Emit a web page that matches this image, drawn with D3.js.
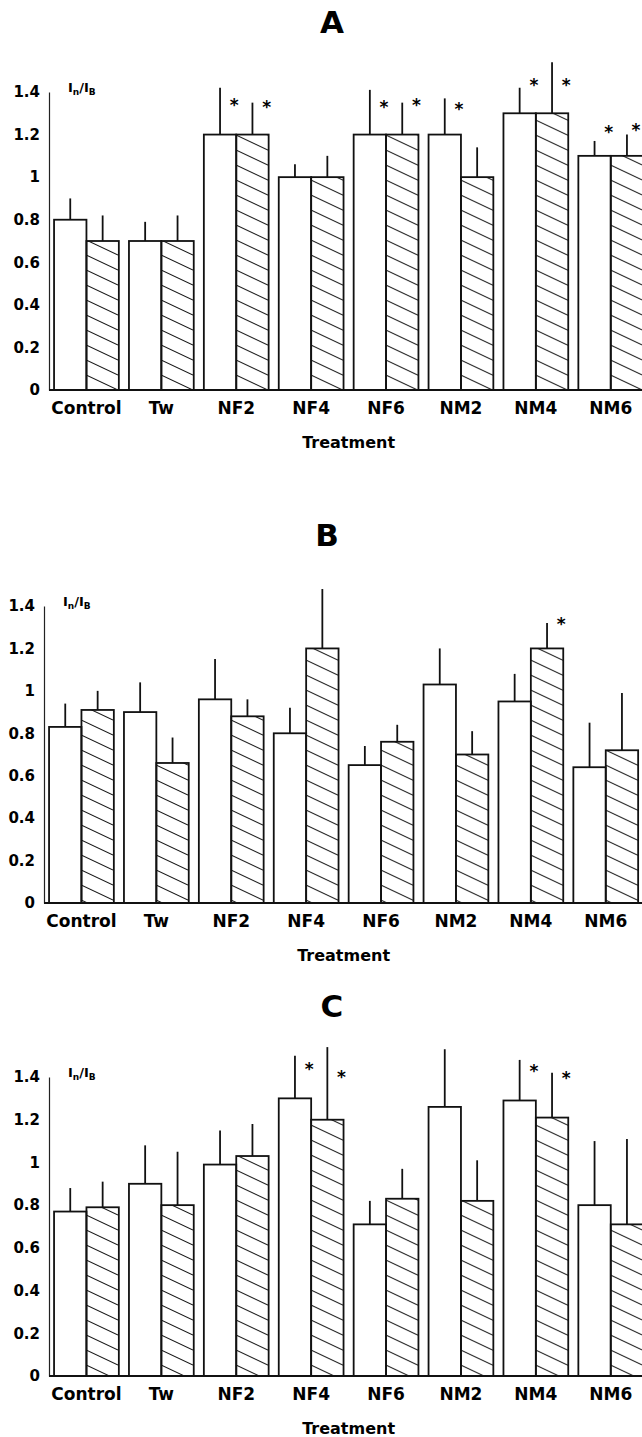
<!DOCTYPE html>
<html>
<head>
<meta charset="utf-8">
<script src="https://cdn.jsdelivr.net/npm/d3@7"></script>
<style>
  body { margin: 0; background: #fff; }
  svg { display: block; font-family: "DejaVu Sans", sans-serif; font-weight: bold; }
</style>
</head>
<body>
<div class="wrapper"></div>
<script>
// treatment groups, same for all three panels
const categories = ["Control", "Tw", "NF2", "NF4", "NF6", "NM2", "NM4", "NM6"]
const tickValues = [0, 0.2, 0.4, 0.6, 0.8, 1, 1.2, 1.4]

// panel A
const aOpen = [0.80, 0.70, 1.20, 1.00, 1.20, 1.20, 1.30, 1.10]
const aOpenErr = [0.10, 0.09, 0.22, 0.06, 0.21, 0.17, 0.12, 0.07]
const aHatch = [0.70, 0.70, 1.20, 1.00, 1.20, 1.00, 1.30, 1.10]
const aHatchErr = [0.12, 0.12, 0.15, 0.10, 0.15, 0.14, 0.24, 0.10]
const aOpenStar = [null, null, 1.36, null, 1.35, 1.34, 1.45, 1.23]
const aHatchStar = [null, null, 1.35, null, 1.36, null, 1.45, 1.24]

// panel B
const bOpen = [0.83, 0.90, 0.96, 0.80, 0.65, 1.03, 0.95, 0.64]
const bOpenErr = [0.11, 0.14, 0.19, 0.12, 0.09, 0.17, 0.13, 0.21]
const bHatch = [0.91, 0.66, 0.88, 1.20, 0.76, 0.70, 1.20, 0.72]
const bHatchErr = [0.09, 0.12, 0.08, 0.28, 0.08, 0.11, 0.12, 0.27]
const bOpenStar = [null, null, null, null, null, null, null, null]
const bHatchStar = [null, null, null, null, null, null, 1.335, null]

// panel C
const cOpen = [0.77, 0.90, 0.99, 1.30, 0.71, 1.26, 1.29, 0.80]
const cOpenErr = [0.11, 0.18, 0.16, 0.20, 0.11, 0.27, 0.19, 0.30]
const cHatch = [0.79, 0.80, 1.03, 1.20, 0.83, 0.82, 1.21, 0.71]
const cHatchErr = [0.12, 0.25, 0.15, 0.34, 0.14, 0.19, 0.21, 0.40]
const cOpenStar = [null, null, null, 1.456, null, null, 1.447, null]
const cHatchStar = [null, null, null, 1.42, null, null, 1.414, null]

let width = 642;
let height = 1437;

let svg = d3.select(".wrapper")
  .append("svg")
  .attr("width", width)
  .attr("height", height);

// diagonal hatching, lines falling left to right
let pat = svg.append("defs")
  .append("pattern")
  .attr("id", "hatch")
  .attr("patternUnits", "userSpaceOnUse")
  .attr("width", 32)
  .attr("height", 15);

pat.append("path")
  .attr("d", "M-32,-15L64,30 M-32,0L32,30 M0,-15L64,15")
  .style("stroke", "#111")
  .style("stroke-width", 1.1)
  .style("fill", "none");

function drawPanel(p) {

  let g = svg.append("g");

  let y = d3.scaleLinear()
    .domain([0, 1.4])
    .range([p.base, p.top]);

  let x = d3.scaleBand()
    .domain(categories)
    .range([p.axisX, p.axisX + 8 * 74.9])
    .paddingInner(0.135)
    .paddingOuter(0.0675);

  let sub = d3.scaleBand()
    .domain(["open", "hatch"])
    .range([0, x.bandwidth()]);

  let rows = categories.map((c, i) => ({
    cat: c,
    bars: [
      { key: "open", v: p.open[i], e: p.openErr[i], star: p.openStar[i] },
      { key: "hatch", v: p.hatch[i], e: p.hatchErr[i], star: p.hatchStar[i] }
    ]
  }))

  let grp = g.selectAll(".grp")
    .data(rows)
    .enter()
    .append("g")
    .attr("transform", d => "translate(" + x(d.cat) + ",0)");

  let bar = grp.selectAll(".bar")
    .data(d => d.bars)
    .enter()
    .append("g");

  // error bars (upper half only)
  bar.append("line")
    .attr("x1", d => sub(d.key) + sub.bandwidth() / 2)
    .attr("x2", d => sub(d.key) + sub.bandwidth() / 2)
    .attr("y1", d => y(d.v))
    .attr("y2", d => y(d.v + d.e))
    .style("stroke", "#111")
    .style("stroke-width", 1.8);

  bar.append("rect")
    .attr("x", d => sub(d.key))
    .attr("y", d => y(d.v))
    .attr("width", sub.bandwidth())
    .attr("height", d => y(0) - y(d.v))
    .style("fill", d => d.key == "hatch" ? "url(#hatch)" : "#fff")
    .style("stroke", "#111")
    .style("stroke-width", 1.8);

  // significance marks, kept inside the page
  bar.filter(d => d.star != null)
    .append("text")
    .attr("x", function(d) {
      let gx = x(this.parentNode.parentNode.__data__.cat);
      return Math.min(sub(d.key) + sub.bandwidth() - 2, width - 6 - gx);
    })
    .attr("y", d => y(d.star) + 10)
    .attr("text-anchor", "middle")
    .style("font-size", "17px")
    .text("*");

  // y axis
  let yAxis = g.append("g")
    .attr("transform", "translate(" + p.axisX + ",0)")
    .call(d3.axisLeft(y)
      .tickValues(tickValues)
      .tickSize(0)
      .tickPadding(9)
      .tickFormat(d => String(+d.toFixed(1))));

  yAxis.select(".domain")
    .style("stroke", "#222")
    .style("stroke-width", 1.2);

  yAxis.selectAll("text")
    .style("font-family", "DejaVu Sans")
    .style("font-weight", "bold")
    .style("font-size", "15px")
    .style("fill", "#000");

  // baseline
  g.append("line")
    .attr("x1", p.axisX)
    .attr("x2", width)
    .attr("y1", y(0))
    .attr("y2", y(0))
    .style("stroke", "#111")
    .style("stroke-width", 2);

  // In/IB label
  let lab = g.append("text")
    .attr("x", p.axisX + 19)
    .attr("y", y(1.4))
    .style("font-size", "13px");
  lab.append("tspan").text("I");
  lab.append("tspan").attr("dy", 3).style("font-size", "9px").text("n");
  lab.append("tspan").attr("dy", -3).text("/I");
  lab.append("tspan").attr("dy", 3).style("font-size", "9px").text("B");

  // category labels
  g.selectAll(".cat")
    .data(categories)
    .enter()
    .append("text")
    .attr("x", d => x(d) + x.bandwidth() / 2)
    .attr("y", y(0) + 24)
    .attr("text-anchor", "middle")
    .style("font-size", "17px")
    .text(d => d);

  g.append("text")
    .attr("x", (x(categories[0]) + x(categories[7]) + x.bandwidth()) / 2)
    .attr("y", y(0) + 58)
    .attr("text-anchor", "middle")
    .style("font-size", "16px")
    .text("Treatment");

  g.append("text")
    .attr("x", p.axisX + 283)
    .attr("y", p.titleY)
    .attr("text-anchor", "middle")
    .style("font-size", "31px")
    .text(p.title);
}

drawPanel({ title: "A", titleY: 33, axisX: 49, top: 92, base: 390,
  open: aOpen, openErr: aOpenErr, hatch: aHatch, hatchErr: aHatchErr, openStar: aOpenStar, hatchStar: aHatchStar })

drawPanel({ title: "B", titleY: 546, axisX: 44, top: 606, base: 903,
  open: bOpen, openErr: bOpenErr, hatch: bHatch, hatchErr: bHatchErr, openStar: bOpenStar, hatchStar: bHatchStar })

drawPanel({ title: "C", titleY: 1017, axisX: 49, top: 1077, base: 1376,
  open: cOpen, openErr: cOpenErr, hatch: cHatch, hatchErr: cHatchErr, openStar: cOpenStar, hatchStar: cHatchStar })
</script>
</body>
</html>
